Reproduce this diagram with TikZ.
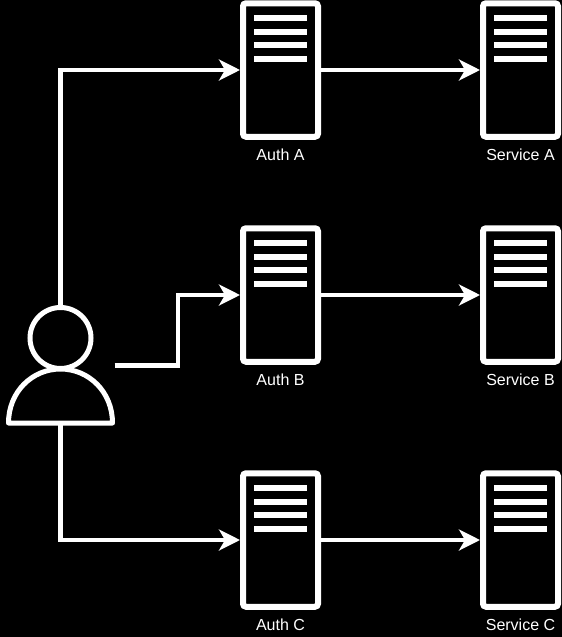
\documentclass[tikz,border=0pt]{standalone}
\usepackage{fontspec}
\setmainfont{Liberation Sans}
\usetikzlibrary{positioning, arrows.meta}

\tikzset{
    serverbox/.style={draw=white, line width=6pt, rounded corners=3pt, minimum width=75pt, minimum height=133.5pt, inner sep=0pt},
    serverbar/.style={fill=white, minimum width=53pt, minimum height=6pt, inner sep=0pt},
    serverlabel/.style={text=white, font=\fontsize{16pt}{18pt}\selectfont, inner sep=0pt},
    personbox/.style={minimum width=108pt, minimum height=119pt, inner sep=0pt, outer sep=0pt},
    link/.style={draw=white, line width=4.5pt, -{Stealth[length=21pt, width=21pt, inset=6pt]}}
}

\begin{document}
\begin{tikzpicture}[x=1pt, y=-1pt]
    \fill[black] (0, 0) rectangle (562, 637);
    \useasboundingbox (0, 0) rectangle (562, 637);

    % servers
    \foreach \cx/\cy/\name/\caption in {280.5/70/authA/Auth A, 280.5/295/authB/Auth B, 280.5/540/authC/Auth C,
                                        520.5/70/serviceA/Service A, 520.5/295/serviceB/Service B, 520.5/540/serviceC/Service C} {
        \node[serverbox] (\name) at (\cx, \cy) {};
        \node[serverlabel, below=8.5pt of \name] (\name label) {\caption};
        \foreach \dy in {-52, -38.5, -25, -11.5} {
            \node[serverbar] (\name bar\dy) at (\cx, \cy + \dy) {};
        }
    }

    % user
    \node[personbox] (user) at (60.5, 365.5) {};
    \node[draw=white, line width=5pt, circle, minimum size=61pt, inner sep=0pt] (userhead) at (60.5, 338) {};
    \draw[white, line width=5pt, line join=round] (8.5, 423) .. controls (8.5, 392) and (32, 369) .. (60.5, 369)
        .. controls (89, 369) and (112.5, 392) .. (112.5, 423) -- cycle;

    \coordinate (elbowB) at (178, 365.5);

    \draw[link] (user.north) |- (authA.west);
    \draw[link] (user.east) -- (elbowB) |- (authB.west);
    \draw[link] (user.south) |- (authC.west);

    \draw[link] (authA.east) -- (serviceA.west);
    \draw[link] (authB.east) -- (serviceB.west);
    \draw[link] (authC.east) -- (serviceC.west);
\end{tikzpicture}
\end{document}
